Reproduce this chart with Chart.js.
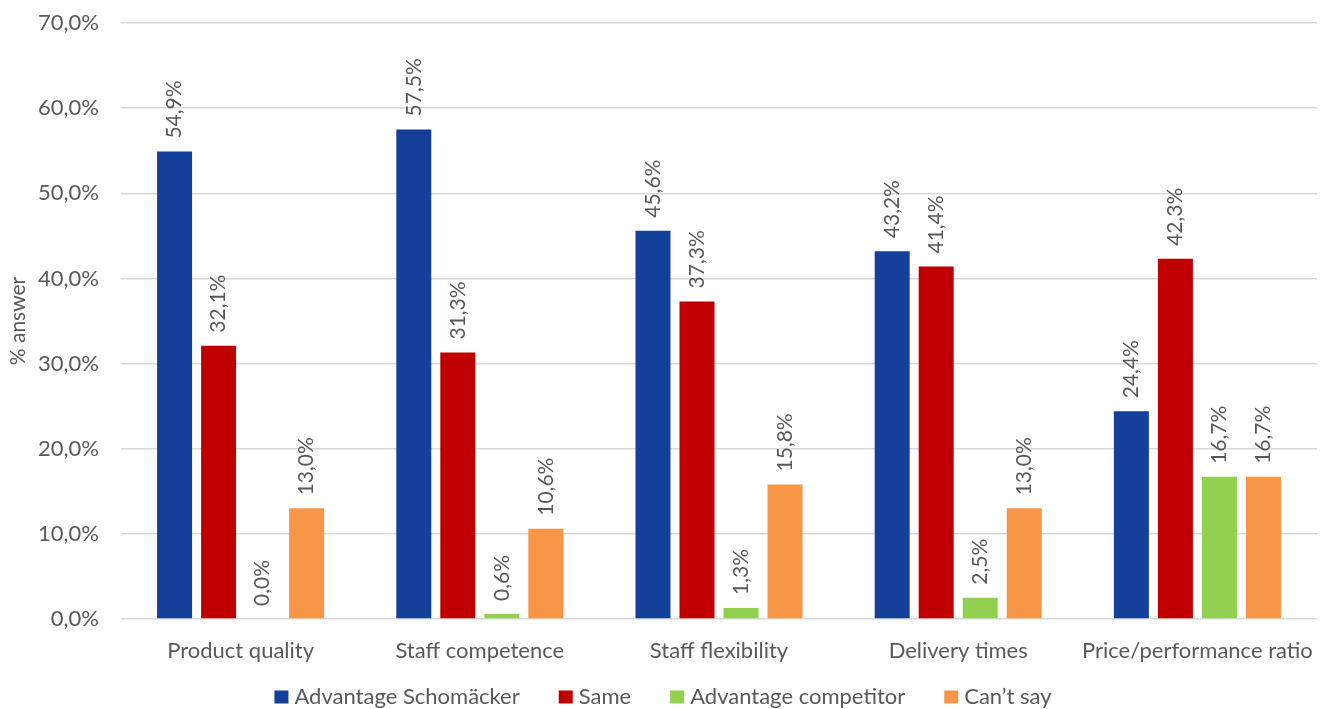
<!DOCTYPE html>
<html>
<head>
<meta charset="utf-8">
<script src="https://cdn.jsdelivr.net/npm/chart.js@4.4.1/dist/chart.umd.min.js"></script>
<style>
  html, body { margin: 0; padding: 0; background: #fff; }
  #wrap { width: 1326px; height: 709px; }
</style>
</head>
<body>
<div id="wrap"><canvas id="chart" width="1326" height="709"></canvas></div>
<script>
// Chart data
const categories = ["Product quality", "Staff competence", "Staff flexibility", "Delivery times", "Price/performance ratio"];
const seriesNames = ["Advantage Schomäcker", "Same", "Advantage competitor", "Can\u2019t say"];
const advantageSchomaecker = [54.9, 57.5, 45.6, 43.2, 24.4];
const same = [32.1, 31.3, 37.3, 41.4, 42.3];
const advantageCompetitor = [0.0, 0.6, 1.3, 2.5, 16.7];
const cantSay = [13.0, 10.6, 15.8, 13.0, 16.7];
const yTicks = [0, 10, 20, 30, 40, 50, 60, 70];

const colors = ['#15409A', '#C00000', '#92D050', '#F79646'];
const FONT = 'Lato, "Open Sans", sans-serif';
const TEXT = '#595959';

const fmt = v => v.toFixed(1).replace('.', ',') + '%';

// Rotated value labels above each bar
const valueLabels = {
  id: 'valueLabels',
  afterDatasetsDraw(chart) {
    const ctx = chart.ctx;
    ctx.save();
    ctx.fillStyle = TEXT;
    ctx.font = '21px ' + FONT;
    ctx.textAlign = 'left';
    ctx.textBaseline = 'middle';
    chart.data.datasets.forEach((ds, i) => {
      chart.getDatasetMeta(i).data.forEach((bar, j) => {
        ctx.save();
        ctx.translate(bar.x, bar.y - 13);
        ctx.rotate(-Math.PI / 2);
        ctx.fillText(fmt(ds.data[j]), 0, 0);
        ctx.restore();
      });
    });
    ctx.restore();
  }
};

// Legend drawn under the axis, Excel style spacing
const bottomLegend = {
  id: 'bottomLegend',
  afterDraw(chart) {
    const ctx = chart.ctx;
    const box = 14, gapText = 6, gapItem = 39, y = 697;
    ctx.save();
    ctx.font = '22px ' + FONT;
    ctx.textBaseline = 'middle';
    ctx.textAlign = 'left';
    const items = chart.data.datasets.map(ds => ({ text: ds.label, color: ds.backgroundColor, w: ctx.measureText(ds.label).width }));
    let total = items.reduce((s, it) => s + box + gapText + it.w, 0) + gapItem * (items.length - 1);
    let x = chart.width / 2 - total / 2;
    items.forEach(it => {
      ctx.fillStyle = it.color;
      ctx.fillRect(x, y - 6.5, box, 13);
      x += box + gapText;
      ctx.fillStyle = TEXT;
      ctx.fillText(it.text, x, y);
      x += it.w + gapItem;
    });
    ctx.restore();
  }
};

const allSeries = [advantageSchomaecker, same, advantageCompetitor, cantSay];

new Chart(document.getElementById('chart'), {
  type: 'bar',
  data: {
    labels: categories,
    datasets: allSeries.map((d, i) => ({
      label: seriesNames[i],
      data: d,
      backgroundColor: colors[i],
      categoryPercentage: 0.736,
      barPercentage: 0.795
    }))
  },
  options: {
    responsive: false,
    animation: false,
    layout: { padding: { top: 23, right: 9, left: 0, bottom: 38 } },
    plugins: {
      tooltip: { enabled: false },
      legend: { display: false }
    },
    scales: {
      x: {
        grid: { display: false },
        border: { display: false },
        ticks: { color: TEXT, font: { family: FONT, size: 22 }, padding: 11, maxRotation: 0 },
        afterFit(scale) { scale.height = 52; }
      },
      y: {
        min: 0,
        max: 70,
        afterBuildTicks(scale) { scale.ticks = yTicks.map(v => ({ value: v })); },
        grid: { color: '#D9D9D9', lineWidth: 1.5, drawTicks: false },
        border: { display: false },
        ticks: {
          color: TEXT,
          font: { family: FONT, size: 22 },
          padding: 22,
          callback: v => fmt(v)
        },
        title: {
          display: true,
          text: '% answer',
          color: TEXT,
          font: { family: FONT, size: 21 },
          padding: { top: 6, bottom: 0 }
        },
        afterFit(scale) {
          scale.width = 121;
          scale.paddingTop = 0;
          scale.paddingBottom = 0;
        }
      }
    }
  },
  plugins: [valueLabels, bottomLegend]
});
</script>
</body>
</html>
